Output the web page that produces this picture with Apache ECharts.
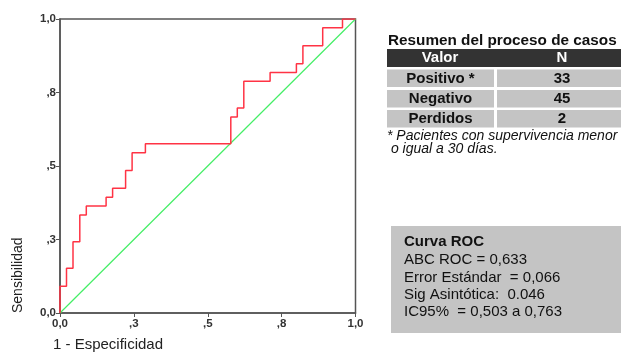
<!DOCTYPE html>
<html>
<head>
<meta charset="utf-8">
<script src="https://cdn.jsdelivr.net/npm/echarts@6/dist/echarts.min.js"></script>
<style>
html,body{margin:0;padding:0;background:#fff;}
#chart{width:621px;height:354px;}
</style>
</head>
<body>
<div id="chart"></div>
<script>
// ROC curve corner points (1 - specificity, sensitivity)
var rocFpr = [0, 0, 0.022, 0.044, 0.067, 0.089, 0.156, 0.178, 0.222, 0.244, 0.289, 0.578, 0.600, 0.622, 0.711, 0.800, 0.822, 0.889, 0.956, 1.000];
var rocTpr = [0, 0.091, 0.152, 0.242, 0.333, 0.364, 0.394, 0.424, 0.485, 0.545, 0.576, 0.667, 0.697, 0.788, 0.818, 0.848, 0.909, 0.970, 1.000, 1.000];
var refX = [0, 1];
var refY = [0, 1];
var tickLabels = ['0,0', ',3', ',5', ',8', '1,0'];
var tableTitle = 'Resumen del proceso de casos';
var tableHeader = ['Valor', 'N'];
var tableLabels = ['Positivo *', 'Negativo', 'Perdidos'];
var tableN = [33, 45, 2];
var footnote = ['* Pacientes con supervivencia menor', ' o igual a 30 días.'];
var boxTitle = 'Curva ROC';
var boxLines = ['ABC ROC = 0,633', 'Error Estándar  = 0,066', 'Sig Asintótica:  0.046', 'IC95%  = 0,503 a 0,763'];

var FONT = '"Liberation Sans", Arial, sans-serif';
var chart = echarts.init(document.getElementById('chart'));

function fmt(v) {
  var i = Math.round(v / 0.25);
  return tickLabels[i] !== undefined ? tickLabels[i] : '';
}

var rocData = rocFpr.map(function (x, i) { return [x, rocTpr[i]]; });
var refData = refX.map(function (x, i) { return [x, refY[i]]; });

var graphics = [];
// axis titles
graphics.push({
  type: 'text', left: 53, top: 337,
  style: { text: '1 - Especificidad', font: '15px ' + FONT, fill: '#222' }
});
graphics.push({
  type: 'text', x: 11, y: 313, rotation: Math.PI / 2,
  style: { text: 'Sensibilidad', font: '14px ' + FONT, fill: '#222', textAlign: 'left', textVerticalAlign: 'top' }
});
// table title
graphics.push({
  type: 'text', x: 388, y: 41,
  style: { text: tableTitle, font: 'bold 15.3px ' + FONT, fill: '#111', textVerticalAlign: 'middle' }
});
// header
graphics.push({ type: 'rect', shape: { x: 387, y: 49, width: 234, height: 18 }, style: { fill: '#333333' } });
graphics.push({ type: 'text', x: 440, y: 58, style: { text: tableHeader[0], font: 'bold 15px ' + FONT, fill: '#fff', textAlign: 'center', textVerticalAlign: 'middle' } });
graphics.push({ type: 'text', x: 562, y: 58, style: { text: tableHeader[1], font: 'bold 15px ' + FONT, fill: '#fff', textAlign: 'center', textVerticalAlign: 'middle' } });
var rowTops = [69.5, 90, 110];
tableLabels.forEach(function (lab, i) {
  var t = rowTops[i];
  graphics.push({ type: 'rect', shape: { x: 387, y: t, width: 107, height: 17.5 }, style: { fill: '#c4c4c4' } });
  graphics.push({ type: 'rect', shape: { x: 497, y: t, width: 124, height: 17.5 }, style: { fill: '#c4c4c4' } });
  graphics.push({ type: 'text', x: 440.5, y: t + 9, style: { text: lab, font: 'bold 15px ' + FONT, fill: '#111', textAlign: 'center', textVerticalAlign: 'middle' } });
  graphics.push({ type: 'text', x: 562, y: t + 9, style: { text: String(tableN[i]), font: 'bold 15px ' + FONT, fill: '#111', textAlign: 'center', textVerticalAlign: 'middle' } });
});
footnote.forEach(function (line, i) {
  graphics.push({ type: 'text', x: 387, y: 136.5 + i * 13, style: { text: line, font: 'italic 14px ' + FONT, fill: '#111', textVerticalAlign: 'middle' } });
});
// ROC box
graphics.push({ type: 'rect', shape: { x: 391, y: 226, width: 230, height: 107 }, style: { fill: '#c4c4c4' } });
graphics.push({ type: 'text', x: 404, y: 242, style: { text: boxTitle, font: 'bold 15px ' + FONT, fill: '#111', textVerticalAlign: 'middle' } });
boxLines.forEach(function (line, i) {
  graphics.push({ type: 'text', x: 404, y: 260 + i * 17.4, style: { text: line, font: '15px ' + FONT, fill: '#111', textVerticalAlign: 'middle' } });
});

chart.setOption({
  animation: false,
  backgroundColor: '#fff',
  grid: { left: 60, right: 265.5, top: 19, bottom: 41, show: true, borderColor: '#555', borderWidth: 1.5 },
  xAxis: {
    type: 'value', min: 0, max: 1, interval: 0.25,
    axisLine: { show: true, lineStyle: { color: '#555', width: 1.5 } },
    axisTick: { show: true, length: 4, lineStyle: { color: '#555' } },
    splitLine: { show: false },
    axisLabel: { formatter: fmt, color: '#333', fontSize: 11.5, fontWeight: 'bold', fontFamily: FONT, margin: 5 }
  },
  yAxis: {
    type: 'value', min: 0, max: 1, interval: 0.25,
    axisLine: { show: true, lineStyle: { color: '#555', width: 1.5 } },
    axisTick: { show: true, length: 4, lineStyle: { color: '#555' } },
    splitLine: { show: false },
    axisLabel: { formatter: fmt, color: '#333', fontSize: 11.5, fontWeight: 'bold', fontFamily: FONT, margin: 4 }
  },
  series: [
    { type: 'line', data: refData, symbol: 'none', lineStyle: { color: '#44ee66', width: 1.2 }, z: 2 },
    { type: 'line', data: rocData, step: 'end', symbol: 'none', lineStyle: { color: '#ff3344', width: 1.5 }, z: 3 }
  ],
  graphic: graphics
});
</script>
</body>
</html>
